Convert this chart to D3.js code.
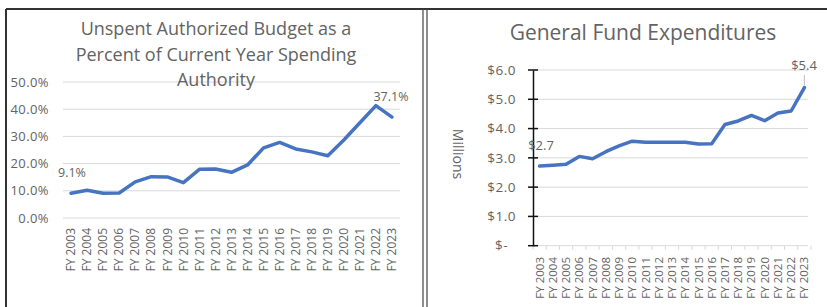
<!DOCTYPE html>
<html>
<head>
<meta charset="utf-8">
<script src="https://cdn.jsdelivr.net/npm/d3@7"></script>
<style>
  body { margin: 0; background: #fff; }
  svg { display: block; font-family: "Open Sans", "Noto Sans", sans-serif; }
</style>
</head>
<body>
<svg id="chart" width="827" height="307"></svg>
<script>
var years = ['FY 2003', 'FY 2004', 'FY 2005', 'FY 2006', 'FY 2007', 'FY 2008', 'FY 2009',
  'FY 2010', 'FY 2011', 'FY 2012', 'FY 2013', 'FY 2014', 'FY 2015', 'FY 2016', 'FY 2017',
  'FY 2018', 'FY 2019', 'FY 2020', 'FY 2021', 'FY 2022', 'FY 2023'];

// unspent authorized budget, percent of spending authority
var unspentPct = [9.1, 10.2, 9.1, 9.2, 13.3, 15.2, 15.1, 13.0, 17.9, 18.0, 16.8, 19.5,
  25.8, 27.8, 25.4, 24.3, 22.9, 28.7, 35.0, 41.3, 37.1];
var pctTicks = [0, 10, 20, 30, 40, 50];
var leftTitle = ['Unspent Authorized Budget as a', 'Percent of Current Year Spending', 'Authority'];

// general fund expenditures, $ millions
var expenditures = [2.72, 2.75, 2.78, 3.05, 2.97, 3.21, 3.41, 3.57, 3.53, 3.53, 3.53, 3.53,
  3.47, 3.48, 4.14, 4.26, 4.45, 4.27, 4.53, 4.6, 5.4];
var dollarTicks = [0, 1, 2, 3, 4, 5, 6];
var rightTitle = 'General Fund Expenditures';

var svg = d3.select('#chart');
var textCol = '#636363', gridCol = '#d9d9d9', lineCol = '#4674c1';

// frame
svg.append('line').attr('x1', 6).attr('x2', 827).attr('y1', 9).attr('y2', 9)
  .attr('stroke', '#333').attr('stroke-width', 2);
svg.append('line').attr('x1', 6).attr('x2', 6).attr('y1', 9).attr('y2', 307)
  .attr('stroke', '#333').attr('stroke-width', 2);
[423, 427].forEach(function(x) {
  svg.append('line').attr('x1', x).attr('x2', x).attr('y1', 9).attr('y2', 307)
    .attr('stroke', '#444').attr('stroke-width', 1.2);
});

// ---- left chart ----
(function() {
  var g = svg.append('g');
  var x = d3.scaleBand().domain(years).range([63, 400]);
  var y = d3.scaleLinear().domain([0, 50]).range([218, 82]);
  var cx = function(d) { return x(d) + x.bandwidth() / 2; };

  g.selectAll('.grid').data(pctTicks).enter().append('line')
    .attr('x1', 63).attr('x2', 400)
    .attr('y1', function(d) { return y(d); }).attr('y2', function(d) { return y(d); })
    .attr('stroke', gridCol).attr('stroke-width', 1);

  g.selectAll('.ylab').data(pctTicks).enter().append('text')
    .attr('x', 49).attr('y', function(d) { return y(d); }).attr('dy', '0.35em')
    .attr('text-anchor', 'end').attr('font-size', 13).attr('letter-spacing', 0.4)
    .attr('fill', textCol)
    .text(function(d) { return d.toFixed(1) + '%'; });

  g.selectAll('.xlab').data(years).enter().append('text')
    .attr('transform', function(d) { return 'translate(' + cx(d) + ',228) rotate(-90)'; })
    .attr('dy', '0.35em').attr('text-anchor', 'end')
    .attr('font-size', 12).attr('fill', textCol)
    .text(function(d) { return d; });

  g.selectAll('.title').data(leftTitle).enter().append('text')
    .attr('x', 216).attr('y', function(d, i) { return 35 + i * 25.5; })
    .attr('text-anchor', 'middle').attr('font-size', 18).attr('fill', textCol)
    .text(function(d) { return d; });

  var line = d3.line().x(function(d, i) { return cx(years[i]); }).y(function(d) { return y(d); });
  g.append('path').datum(unspentPct).attr('d', line)
    .attr('fill', 'none').attr('stroke', lineCol).attr('stroke-width', 3.5)
    .attr('stroke-linejoin', 'round').attr('stroke-linecap', 'round');

  var n = unspentPct.length - 1;
  g.append('text').attr('x', 72).attr('y', 173).attr('dy', '0.35em')
    .attr('text-anchor', 'middle').attr('font-size', 12.5).attr('fill', textCol)
    .text(unspentPct[0].toFixed(1) + '%');
  g.append('text').attr('x', cx(years[n]) - 1).attr('y', 97).attr('dy', '0.35em')
    .attr('text-anchor', 'middle').attr('font-size', 12.5).attr('fill', textCol)
    .text(unspentPct[n].toFixed(1) + '%');
})();

// ---- right chart ----
(function() {
  var g = svg.append('g');
  var x = d3.scaleBand().domain(years).range([533, 811]);
  var y = d3.scaleLinear().domain([0, 6]).range([245.7, 70]);
  var cx = function(d) { return x(d) + x.bandwidth() / 2; };

  g.selectAll('.grid').data(dollarTicks).enter().append('line')
    .attr('x1', 533).attr('x2', 808)
    .attr('y1', function(d) { return y(d); }).attr('y2', function(d) { return y(d); })
    .attr('stroke', gridCol).attr('stroke-width', 1);

  // category tick marks below the baseline
  g.selectAll('.xtick').data(years.concat(['end'])).enter().append('line')
    .attr('x1', function(d, i) { return 533 + i * x.step(); })
    .attr('x2', function(d, i) { return 533 + i * x.step(); })
    .attr('y1', y(0)).attr('y2', y(0) + 4)
    .attr('stroke', gridCol);

  var yAxis = d3.axisLeft(y).tickValues(dollarTicks).tickSize(0).tickFormat('');
  g.append('g').attr('transform', 'translate(533,0)').call(yAxis)
    .call(function(a) { a.select('.domain').attr('stroke', '#111').attr('stroke-width', 1.5); });
  g.selectAll('.ytick').data(dollarTicks).enter().append('line')
    .attr('x1', 528).attr('x2', 538)
    .attr('y1', function(d) { return y(d); }).attr('y2', function(d) { return y(d); })
    .attr('stroke', '#111').attr('stroke-width', 1.5);

  g.selectAll('.ylab').data(dollarTicks).enter().append('text')
    .attr('x', function(d) { return d === 0 ? 508 : 516; })
    .attr('y', function(d) { return y(d); }).attr('dy', '0.35em')
    .attr('text-anchor', 'end').attr('font-size', 13.5).attr('letter-spacing', 0.5)
    .attr('fill', textCol)
    .text(function(d) { return d === 0 ? '$-' : '$' + d.toFixed(1); });

  g.selectAll('.xlab').data(years).enter().append('text')
    .attr('transform', function(d) { return 'translate(' + cx(d) + ',257) rotate(-90)'; })
    .attr('dy', '0.35em').attr('text-anchor', 'end')
    .attr('font-size', 11.5).attr('fill', textCol)
    .text(function(d) { return d; });

  g.append('text').attr('transform', 'translate(458,154) rotate(90)')
    .attr('text-anchor', 'middle').attr('dy', '0.35em')
    .attr('font-size', 14).attr('fill', textCol).text('Millions');

  g.append('text').attr('x', 643).attr('y', 40)
    .attr('text-anchor', 'middle').attr('font-size', 21).attr('fill', textCol)
    .text(rightTitle);

  var line = d3.line().x(function(d, i) { return cx(years[i]); }).y(function(d) { return y(d); });
  g.append('path').datum(expenditures).attr('d', line)
    .attr('fill', 'none').attr('stroke', lineCol).attr('stroke-width', 3.5)
    .attr('stroke-linejoin', 'round').attr('stroke-linecap', 'round');

  var n = expenditures.length - 1;
  g.append('text').attr('x', 541).attr('y', 145).attr('dy', '0.35em')
    .attr('text-anchor', 'middle').attr('font-size', 13).attr('fill', textCol)
    .text('$' + expenditures[0].toFixed(1));
  g.append('line').attr('x1', cx(years[n])).attr('x2', cx(years[n]))
    .attr('y1', 75).attr('y2', y(expenditures[n]) - 2)
    .attr('stroke', '#bfbfbf');
  g.append('text').attr('x', 804).attr('y', 65).attr('dy', '0.35em')
    .attr('text-anchor', 'middle').attr('font-size', 13).attr('fill', textCol)
    .text('$' + expenditures[n].toFixed(1));
})();
</script>
</body>
</html>
